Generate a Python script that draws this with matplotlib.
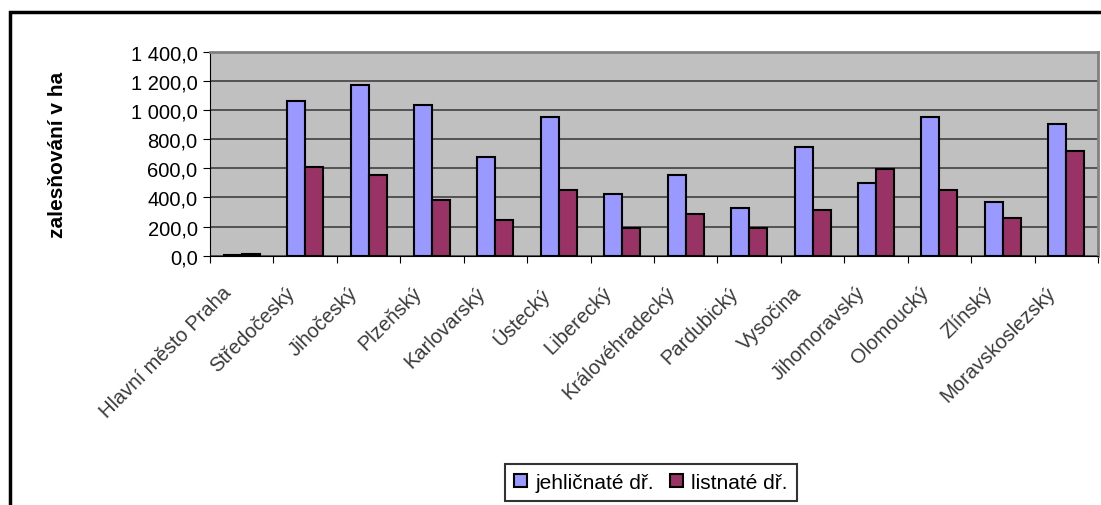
import numpy as np
import matplotlib
matplotlib.use("Agg")
import matplotlib.pyplot as plt
from matplotlib.patches import Rectangle

plt.rcParams['font.family'] = ['Liberation Sans', 'DejaVu Sans']

# kraje
kraje = ['Hlavní město Praha', 'Středočeský', 'Jihočeský', 'Plzeňský', 'Karlovarský',
         'Ústecký', 'Liberecký', 'Královéhradecký', 'Pardubický', 'Vysočina',
         'Jihomoravský', 'Olomoucký', 'Zlínský', 'Moravskoslezský']
jehlicnate = [2, 1060, 1170, 1032, 675, 950, 425, 551, 328, 743, 496, 950, 370, 906]
listnate = [14, 606, 551, 383, 246, 452, 191, 289, 191, 317, 592, 452, 262, 716]
yticks = [0, 200, 400, 600, 800, 1000, 1200, 1400]
ytick_labels = ['0,0', '200,0', '400,0', '600,0', '800,0', '1 000,0', '1 200,0', '1 400,0']

fig = plt.figure(figsize=(11.01, 5.06), dpi=100)
ax = fig.add_axes([210 / 1101, 1 - 256.7 / 506, 888 / 1101, 204 / 506])
ax.set_facecolor('#c0c0c0')

x = np.arange(len(kraje))
w = 0.284
ax.bar(x - w / 2, jehlicnate, w, color='#9999ff', edgecolor='black', linewidth=1.5,
       label='jehličnaté dř.', zorder=3)
ax.bar(x + w / 2, listnate, w, color='#993366', edgecolor='black', linewidth=1.5,
       label='listnaté dř.', zorder=3)

ax.set_xlim(-0.5, len(kraje) - 0.5)
ax.set_ylim(0, 1400)
ax.set_yticks(yticks)
ax.set_yticklabels(ytick_labels, fontsize=14.5)
ax.yaxis.grid(True, color='#404040', linewidth=1.2, zorder=1)

# ticky na hranicich kategorii
ax.set_xticks(np.arange(len(kraje) + 1) - 0.5)
ax.set_xticklabels([])
ax.tick_params(axis='x', length=5, direction='out', color='black')
ax.tick_params(axis='y', length=5, direction='out', color='black', pad=4)
for i, name in enumerate(kraje):
    ax.text(i - 0.32, -185, name, rotation=45, rotation_mode='anchor', ha='right', va='top',
            fontsize=14.5, color='#3a3a3a')

ax.spines['top'].set_color('#808080')
ax.spines['right'].set_color('#808080')
ax.spines['top'].set_linewidth(2)
ax.spines['right'].set_linewidth(2)
ax.spines['left'].set_color('black')
ax.spines['bottom'].set_color('black')

ax.set_ylabel('zalesňování v ha', fontsize=15, fontweight='bold', labelpad=46)

leg = fig.legend(loc='center', bbox_to_anchor=(651 / 1101, 1 - 483.5 / 506), ncol=2,
                 fontsize=15, frameon=True, fancybox=False, edgecolor='black',
                 handlelength=0.6, handleheight=0.6, handletextpad=0.4, columnspacing=0.8,
                 borderpad=0.45)
leg.get_frame().set_linewidth(1.5)

# ramecek grafu
fig.patches.append(Rectangle((9.5 / 1101, -0.1), 1.2, 1 - 12.5 / 506 + 0.1,
                             transform=fig.transFigure, fill=False, edgecolor='black',
                             linewidth=2.5))

fig.savefig('out.png', dpi=100)
